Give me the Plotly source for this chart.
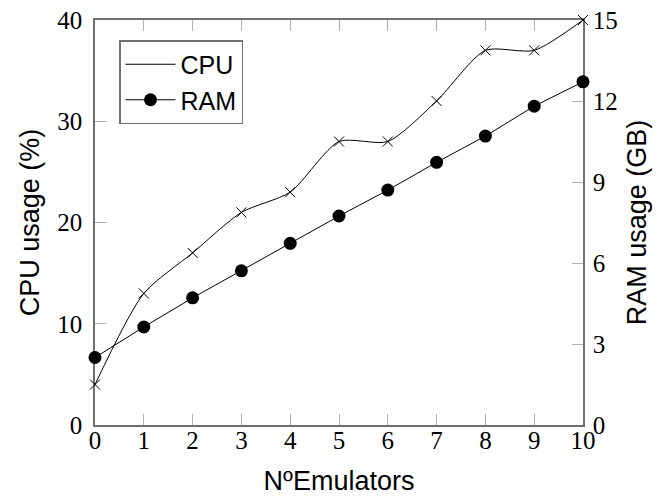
import plotly.graph_objects as go

emulators = [0, 1, 2, 3, 4, 5, 6, 7, 8, 9, 10]
cpu_usage = [4, 13, 17, 21, 23, 28, 28, 32, 37, 37, 40]
ram_usage = [2.5, 3.63, 4.71, 5.71, 6.73, 7.74, 8.70, 9.73, 10.70, 11.81, 12.71]

sans = "Liberation Sans, Arial, sans-serif"
serif = "Liberation Serif, Times New Roman, serif"

fig = go.Figure()
fig.add_trace(go.Scatter(
    x=emulators, y=cpu_usage, mode="lines", name="CPU",
    line=dict(color="black", width=1, shape="spline", smoothing=0.7),
    cliponaxis=False, yaxis="y"))
fig.add_trace(go.Scatter(
    x=emulators, y=cpu_usage, mode="markers", name="CPU", showlegend=False,
    marker=dict(symbol="x-thin", size=10, line=dict(color="black", width=1)),
    cliponaxis=False, yaxis="y"))
fig.add_trace(go.Scatter(
    x=emulators, y=ram_usage, mode="lines+markers", name="RAM",
    line=dict(color="black", width=1),
    marker=dict(symbol="circle", size=13, color="black"),
    cliponaxis=False, yaxis="y2"))

axis_common = dict(
    showgrid=False, zeroline=False, ticks="inside", ticklen=11,
    tickcolor="#b0b0b0", tickwidth=1, showline=True, linecolor="#707070",
    linewidth=1.5, layer="below traces", automargin=False,
    tickfont=dict(family=serif, size=25, color="black"),
)

fig.update_layout(
    width=664, height=496,
    margin=dict(l=95, r=81, t=20, b=71),
    paper_bgcolor="white", plot_bgcolor="white",
    showlegend=True,
    legend=dict(
        x=(119 - 95) / 488, y=(425 - 40) / 405, xanchor="left", yanchor="top",
        bordercolor="#707070", borderwidth=1.5, bgcolor="white",
        font=dict(family=sans, size=25, color="black"),
        tracegroupgap=0, itemwidth=50,
    ),
    xaxis=dict(
        range=[0, 10], tickmode="array", tickvals=emulators,
        mirror="ticks",
        title=dict(text="NºEmulators", font=dict(family=sans, size=27, color="black"), standoff=20),
        ticklabelstandoff=-8,
        **axis_common,
    ),
    yaxis=dict(
        range=[0, 40], tickmode="array", tickvals=[0, 10, 20, 30, 40],
        title=dict(text="CPU usage (%)", font=dict(family=sans, size=27, color="black"), standoff=10),
        ticklabelstandoff=6,
        **axis_common,
    ),
    yaxis2=dict(
        range=[0, 15], tickmode="array", tickvals=[0, 3, 6, 9, 12, 15],
        overlaying="y", side="right",
        title=dict(text="RAM usage (GB)", font=dict(family=sans, size=27, color="black"), standoff=10),
        ticklabelstandoff=3,
        **axis_common,
    ),
)

fig.write_html("out.html")
